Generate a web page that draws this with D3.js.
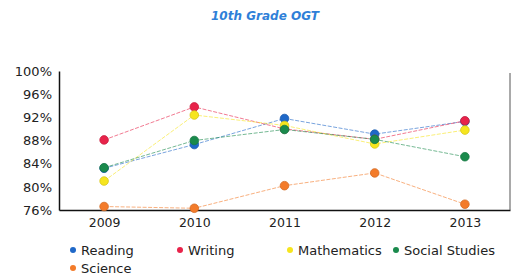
<!DOCTYPE html>
<html lang="en">
<head>
	<meta charset="UTF-8">
	<style>
	body { margin: 0; background: #fff; }
	svg { display: block; font-family: "DejaVu Sans", sans-serif; }
	</style>
	<script src="https://d3js.org/d3.v7.min.js"></script>
	<title>10th Grade OGT</title>
</head>
<body>
	<div id="chart">
		<script>
			// Data
			const years = ["2009", "2010", "2011", "2012", "2013"];
			const yTicks = [76, 80, 84, 88, 92, 96, 100];
			const subjects = ["Reading", "Writing", "Mathematics", "Social Studies", "Science"];
			const colors = ["#1f68c8", "#e8234a", "#f6e51e", "#1a8a4c", "#f37b2a"];

			const reading = [83.2, 87.3, 91.8, 89.1, 91.3];
			const writing = [88.1, 93.8, 90.0, 88.2, 91.4];
			const mathematics = [81.0, 92.4, 90.6, 87.4, 89.8];
			const socialStudies = [83.3, 88.0, 89.9, 88.2, 85.2];
			const science = [76.6, 76.3, 80.2, 82.4, 77.0];

			const series = [reading, writing, mathematics, socialStudies, science];

			const width = 514, height = 280;
			const margin = { top: 71, right: 4, bottom: 70, left: 59 };

			const svg = d3.select("#chart")
				.append("svg")
				.attr("width", width)
				.attr("height", height);

			// Title
			svg.append("text")
				.attr("x", 265)
				.attr("y", 20)
				.attr("text-anchor", "middle")
				.style("font-size", "12px")
				.style("font-style", "italic")
				.style("font-weight", "bold")
				.style("fill", "#2f7fd8")
				.text("10th Grade OGT");

			const x = d3.scalePoint()
				.domain(years)
				.range([margin.left, width - margin.right])
				.padding(0.5);

			const y = d3.scaleLinear()
				.domain([76, 100])
				.range([height - margin.bottom, margin.top]);

			// Axes
			const yAxis = svg.append("g")
				.attr("transform", "translate(" + margin.left + ",0)")
				.call(d3.axisLeft(y).tickValues(yTicks).tickSize(0).tickPadding(7).tickFormat(d => d + "%"));
			yAxis.select(".domain").attr("stroke", "#111").attr("stroke-width", 1.5);
			yAxis.selectAll("text").style("font-size", "13px").style("fill", "#222").style("font-family", "DejaVu Sans, sans-serif");

			const xAxis = svg.append("g")
				.attr("transform", "translate(0," + (height - margin.bottom) + ")")
				.call(d3.axisBottom(x).tickSize(0).tickPadding(8));
			xAxis.select(".domain").attr("stroke", "#111").attr("stroke-width", 1.5);
			xAxis.selectAll("text").style("font-size", "12.5px").style("fill", "#222").style("font-family", "DejaVu Sans, sans-serif");

			// right border line
			svg.append("line")
				.attr("x1", width - margin.right).attr("x2", width - margin.right)
				.attr("y1", y(100) + 2).attr("y2", y(76))
				.attr("stroke", "#555")
				.attr("stroke-width", 1);

			// Lines and points
			const line = d3.line()
				.x((d, i) => x(years[i]))
				.y(d => y(d));

			series.forEach(function(vals, k) {
				svg.append("path")
					.datum(vals)
					.attr("d", line)
					.attr("fill", "none")
					.attr("stroke", colors[k])
					.attr("stroke-width", 1)
					.attr("stroke-dasharray", "4,1.5")
					.attr("opacity", 0.6);
			});

			series.forEach(function(vals, k) {
				svg.append("g")
					.selectAll("circle")
					.data(vals)
					.join("circle")
					.attr("cx", (d, i) => x(years[i]))
					.attr("cy", d => y(d))
					.attr("r", 4.3)
					.style("fill", colors[k])
					.style("stroke", d3.color(colors[k]).darker(0.4))
					.style("stroke-width", 0.8);
			});

			// Legend
			const legendPos = [[73, 250], [180, 250], [290, 250], [396, 250], [73, 268]];
			const legend = svg.append("g")
				.selectAll("g")
				.data(subjects)
				.join("g")
				.attr("transform", (d, i) => "translate(" + legendPos[i][0] + "," + legendPos[i][1] + ")");
			legend.append("circle")
				.attr("r", 3)
				.style("fill", (d, i) => colors[i]);
			legend.append("text")
				.attr("x", 8)
				.attr("dy", "0.35em")
				.style("font-size", "13px")
				.style("fill", "#222")
				.text(d => d);
		</script>
	</div>
</body>
</html>
